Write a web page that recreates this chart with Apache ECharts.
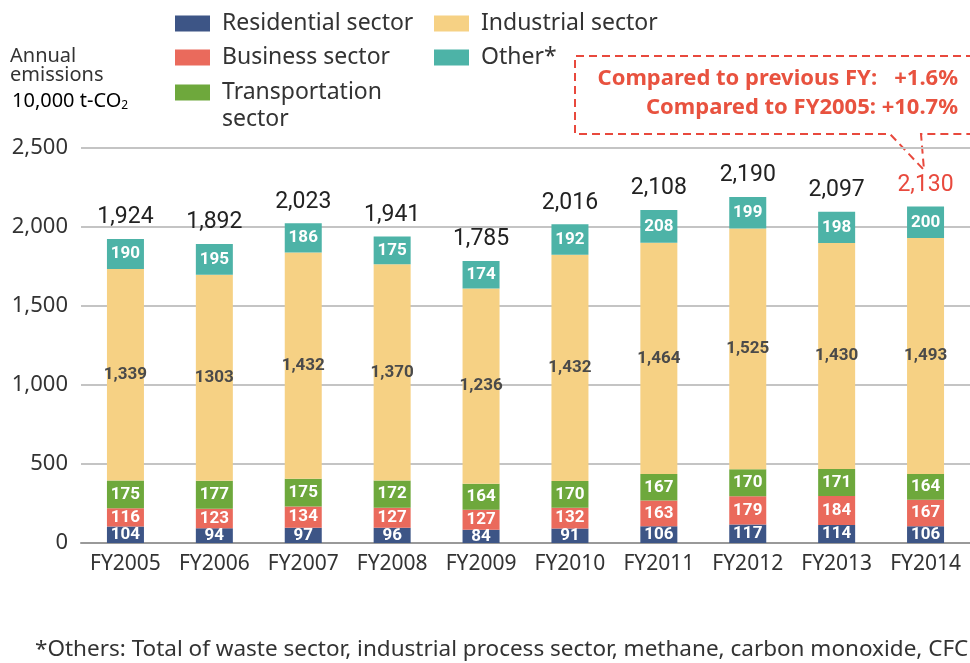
<!DOCTYPE html>
<html>
<head>
<meta charset="utf-8">
<script src="https://cdn.jsdelivr.net/npm/echarts@6/dist/echarts.min.js"></script>
<style>
html,body{margin:0;padding:0;background:#fff;}
#chart{width:970px;height:663px;}
</style>
</head>
<body>
<div id="chart"></div>
<script>
const categories = ['FY2005','FY2006','FY2007','FY2008','FY2009','FY2010','FY2011','FY2012','FY2013','FY2014'];
const residential = [104,94,97,96,84,91,106,117,114,106];
const business = [116,123,134,127,127,132,163,179,184,167];
const transportation = [175,177,175,172,164,170,167,170,171,164];
const industrial = [1339,1303,1432,1370,1236,1432,1464,1525,1430,1493];
const other = [190,195,186,175,174,192,208,199,198,200];
const totals = [1924,1892,2023,1941,1785,2016,2108,2190,2097,2130];
const industrialLabels = ['1,339','1303','1,432','1,370','1,236','1,432','1,464','1,525','1,430','1,493'];
const yTicks = [0,500,1000,1500,2000,2500];
const seriesNames = ['Residential sector','Business sector','Transportation sector','Industrial sector','Other*'];
const colors = ['#3d5586','#ea6a5c','#6ea83c','#f6d184','#4db3a7'];

const numFont = '"Roboto", sans-serif';
const txtFont = '"Noto Sans", "Open Sans", sans-serif';

function fmt(v){ return v.toLocaleString('en-US'); }

const whiteLabel = {
  show: true, position: 'inside', color: '#fff', fontFamily: numFont,
  fontWeight: 'bold', fontSize: 17
};

function stackSeries(name, data, color, label){
  return {
    name: name, type: 'bar', stack: 'total', data: data, barWidth: 37,
    itemStyle: {color: color}, label: label
  };
}

const chart = echarts.init(document.getElementById('chart'), null, {renderer: 'canvas'});

const legendBase = {
  itemWidth: 35, itemHeight: 16, icon: 'rect', padding: 0,
  textStyle: {fontFamily: txtFont, fontSize: 23, color: '#333', padding: [0,0,0,7]},
  selectedMode: false
};

const option = {
  backgroundColor: '#fff',
  animation: false,
  grid: {left: 81, top: 148, width: 894, height: 395, containLabel: false},
  legend: [
    Object.assign({}, legendBase, {left: 175, top: 12, data: [seriesNames[0]]}),
    Object.assign({}, legendBase, {left: 175, top: 46, data: [seriesNames[1]]}),
    Object.assign({}, legendBase, {left: 175, top: 81, data: [seriesNames[2]],
      formatter: function(){ return 'Transportation'; }}),
    Object.assign({}, legendBase, {left: 434, top: 12, data: [seriesNames[3]]}),
    Object.assign({}, legendBase, {left: 434, top: 46, data: [seriesNames[4]]})
  ],
  xAxis: {
    type: 'category', data: categories,
    axisLine: {show: true, lineStyle: {color: '#999', width: 2}},
    axisTick: {show: false},
    axisLabel: {fontFamily: txtFont, fontSize: 21, color: '#333', margin: 11, interval: 0}
  },
  yAxis: {
    type: 'value', min: yTicks[0], max: yTicks[yTicks.length-1], interval: 500,
    axisLine: {show: false}, axisTick: {show: false},
    splitLine: {lineStyle: {color: '#c4c4c4', width: 2}},
    axisLabel: {fontFamily: txtFont, fontSize: 22, color: '#333', margin: 13,
      formatter: function(v){ return fmt(v); }}
  },
  series: [
    stackSeries(seriesNames[0], residential, colors[0], whiteLabel),
    stackSeries(seriesNames[1], business, colors[1], whiteLabel),
    stackSeries(seriesNames[2], transportation, colors[2], whiteLabel),
    stackSeries(seriesNames[3], industrial, colors[3], {
      show: true, position: 'inside', color: '#4a4a4a', fontFamily: numFont,
      fontWeight: 'bold', fontSize: 17,
      formatter: function(p){ return industrialLabels[p.dataIndex]; }
    }),
    stackSeries(seriesNames[4], other, colors[4], whiteLabel),
    {
      name: 'Total', type: 'bar', barWidth: 37, barGap: '-100%', z: 1,
      itemStyle: {color: 'rgba(0,0,0,0)'},
      data: totals.map(function(v, i){
        return i === totals.length - 1
          ? {value: v, label: {color: '#e8493d'}}
          : {value: v};
      }),
      label: {show: true, position: 'top', distance: 10, color: '#222',
        fontFamily: numFont, fontSize: 23,
        formatter: function(p){ return fmt(p.value); }}
    }
  ],
  graphic: [
    {type: 'text', left: 10, top: 46, style: {text: 'Annual', font: '20px ' + txtFont, fill: '#333'}},
    {type: 'text', left: 10, top: 65, style: {text: 'emissions', font: '20px ' + txtFont, fill: '#333'}},
    {type: 'text', left: 12, top: 91, style: {
      text: '{a|10,000 t-CO}{s|2}',
      rich: {a: {fontFamily: txtFont, fontSize: 20, color: '#333'},
             s: {fontFamily: txtFont, fontSize: 12, color: '#333', padding: [10,0,0,0]}}
    }},
    {type: 'text', left: 222, top: 108, style: {text: 'sector', font: '23px ' + txtFont, fill: '#333'}},
    {type: 'polyline', shape: {points: [[1000,56],[575,56],[575,134],[890,134],[924,170],[921,134],[1000,134]]},
      style: {stroke: '#e8493d', lineWidth: 2, lineDash: [8,5], fill: null}},
    {type: 'text', right: 12, top: 68, style: {
      text: 'Compared to previous FY:   +1.6%', font: 'bold 22px ' + txtFont, fill: '#e8523f', textAlign: 'right'}},
    {type: 'text', right: 12, top: 97, style: {
      text: 'Compared to FY2005: +10.7%', font: 'bold 22px ' + txtFont, fill: '#e8523f', textAlign: 'right'}},
    {type: 'text', left: 35, top: 638, style: {
      text: '*Others: Total of waste sector, industrial process sector, methane, carbon monoxide, CFC',
      font: '22.5px ' + txtFont, fill: '#333'}}
  ]
};
chart.setOption(option);
</script>
</body>
</html>
